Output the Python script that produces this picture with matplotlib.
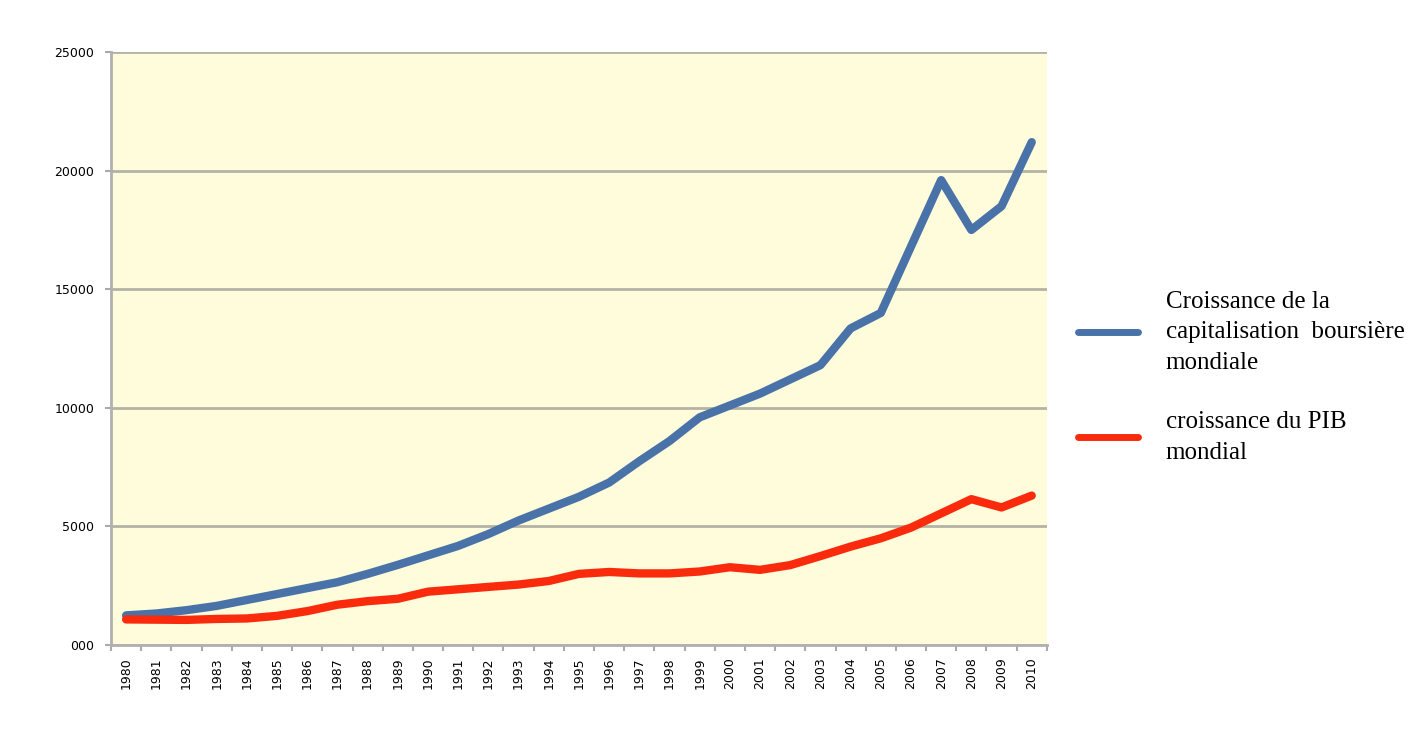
import matplotlib.pyplot as plt

years = [str(y) for y in range(1980, 2011)]

capitalisation = [1250, 1330, 1470, 1650, 1900, 2150, 2400, 2650, 3000, 3380,
                  3780, 4180, 4680, 5250, 5750, 6250, 6850, 7750, 8600, 9600,
                  10100, 10600, 11200, 11800, 13350, 14000, 16800, 19600, 17500, 18500,
                  21200]

pib = [1080, 1070, 1060, 1100, 1120, 1230, 1430, 1700, 1850, 1950,
       2250, 2350, 2450, 2550, 2700, 3000, 3080, 3020, 3020, 3100,
       3280, 3170, 3370, 3750, 4150, 4500, 4950, 5550, 6150, 5800,
       6300]

labels = ["Croissance de la\ncapitalisation  boursière\nmondiale",
          "croissance du PIB\nmondial"]

y_ticks = [0, 5000, 10000, 15000, 20000, 25000]
y_tick_labels = ["000", "5000", "10000", "15000", "20000", "25000"]

fig = plt.figure(figsize=(14.2, 7.35), dpi=100)
ax = fig.add_axes([0.0782, 0.1224, 0.659, 0.8068])
ax.set_facecolor("#fefcda")

x = list(range(len(years)))
ax.plot(x, capitalisation, color="#4872a8", linewidth=6, solid_capstyle="round",
        solid_joinstyle="round", label=labels[0], zorder=3)
ax.plot(x, pib, color="#fa2a0c", linewidth=6, solid_capstyle="round",
        solid_joinstyle="round", label=labels[1], zorder=3)

ax.set_xlim(-0.5, len(years) - 0.5)
ax.set_ylim(0, 25000)
ax.set_yticks(y_ticks)
ax.set_yticklabels(y_tick_labels, fontsize=9)
ax.set_xticks(x)
ax.set_xticklabels(years, rotation=90, fontsize=9)
ax.set_xticks([i - 0.5 for i in range(len(years) + 1)], minor=True)
ax.tick_params(axis="x", which="major", length=0, pad=9)
ax.tick_params(axis="x", which="minor", length=4, color="#aaaaaa", width=1.5)
ax.tick_params(axis="y", length=4, color="#aaaaaa", width=1.5, pad=8)

ax.grid(axis="y", color="#b4b2a4", linewidth=2, zorder=1)
ax.set_axisbelow(True)
for side in ["top", "right"]:
    ax.spines[side].set_visible(False)
for side in ["left", "bottom"]:
    ax.spines[side].set_color("#b0b0b0")
    ax.spines[side].set_linewidth(2)

leg = ax.legend(loc="center left", bbox_to_anchor=(1.023, 0.452), frameon=False,
                prop={"family": "Liberation Serif", "size": 18},
                handlelength=2.4, handletextpad=1.1, labelspacing=1.5,
                borderaxespad=0)
for line in leg.get_lines():
    line.set_linewidth(5)
for t in leg.get_texts():
    t.set_linespacing(1.5)

plt.savefig("out.png", dpi=100)
